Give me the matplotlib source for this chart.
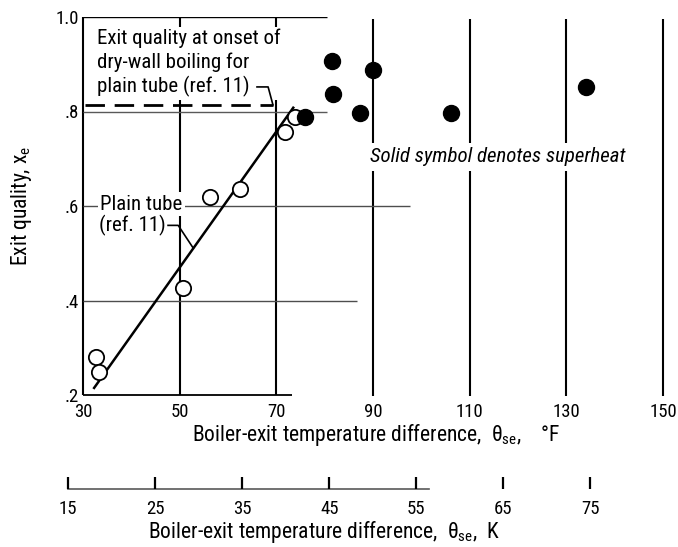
import matplotlib
matplotlib.use("Agg")
import matplotlib.pyplot as plt
from matplotlib import font_manager

# data
open_x = [32.7, 33.3, 50.7, 56.3, 62.5, 71.8, 73.9]
open_y = [0.280, 0.249, 0.426, 0.619, 0.636, 0.757, 0.788]
solid_x = [75.9, 81.5, 81.7, 90.0, 87.3, 106.1, 134.1]
solid_y = [0.788, 0.907, 0.837, 0.888, 0.797, 0.797, 0.852]
plain_x = [32.3, 73.5]
plain_y = [0.215, 0.808]
drywall_x = [30.5, 69.3]
drywall_y = [0.814, 0.814]
f_ticks = [30, 50, 70, 90, 110, 130, 150]
k_ticks = [15, 25, 35, 45, 55, 65, 75]
y_ticks = [0.2, 0.4, 0.6, 0.8, 1.0]
y_labels = ['.2', '.4', '.6', '.8', '1.0']

# a narrow face is closer to the lettering of the scan
names = {f.name for f in font_manager.fontManager.ttflist}
fam = 'DejaVu Sans'
for cand in ['Liberation Sans Narrow', 'DejaVu Sans Condensed', 'Roboto Condensed',
             'Open Sans Condensed', 'Noto Sans Condensed']:
    if cand in names:
        fam = cand
        break
plt.rcParams['font.family'] = [fam, 'DejaVu Sans']
plt.rcParams['font.stretch'] = 'condensed'
plt.rcParams['mathtext.fontset'] = 'custom'
plt.rcParams['mathtext.rm'] = fam
plt.rcParams['mathtext.it'] = fam + ':italic'
fs = 15
fs_tick = 13.5
fs_lab = 15.5

fig = plt.figure(figsize=(6.78, 5.47), dpi=100)
ax = fig.add_axes([83/678, 1-395/547, 580/678, 378/547])
ax.set_xticks(f_ticks)
ax.set_xticklabels([str(t) for t in f_ticks], fontsize=fs_tick)
ax.set_yticks(y_ticks)
ax.set_yticklabels(y_labels, fontsize=fs_tick)
ax.set_xlim(30, 150)
ax.set_ylim(0.2, 1.0)
ax.tick_params(length=0)
ax.tick_params(axis='x', pad=6)
ax.tick_params(axis='y', pad=3)
for s in ax.spines.values():
    s.set_visible(False)

# the hand-drawn grid of the original
ax.vlines([30, 50, 70], 0.2, 1.0, color='k', lw=1.5, clip_on=False)
ax.vlines([90, 110, 130, 150], 0.197, 0.995, color='k', lw=1.5, clip_on=False)
ax.hlines(1.0, 30, 80.5, color='k', lw=1.0)
ax.hlines(0.8, 30, 80.5, color='0.35', lw=1.0)
ax.hlines(0.6, 30, 97.6, color='0.3', lw=1.0)
ax.hlines(0.4, 30, 86.7, color='0.3', lw=1.0)
ax.hlines(0.2, 30, 73.2, color='k', lw=1.3, clip_on=False)

ax.plot(plain_x, plain_y, color='k', lw=1.8, zorder=4)
ax.plot(drywall_x, drywall_y, color='k', lw=2.0, ls=(0, (7, 3.5)), zorder=4)
ax.plot(open_x, open_y, 'o', ms=11, mfc='white', mec='k', mew=1.3, ls='none', zorder=5)
ax.plot(solid_x, solid_y, 'o', ms=11.5, color='k', ls='none', zorder=6)

box = dict(facecolor='white', edgecolor='none', pad=2)
ax.text(32.9, 0.975, 'Exit quality at onset of\ndry-wall boiling for\nplain tube (ref. 11)',
        fontsize=fs, va='top', ha='left', linespacing=1.25, bbox=box, zorder=3)
ax.plot([66.0, 68.3, 69.3], [0.852, 0.852, 0.814], color='k', lw=1.2, zorder=4)

ax.text(33.6, 0.604, 'Plain tube', fontsize=fs, va='center', ha='left', bbox=box, zorder=3)
ax.text(33.4, 0.559, '(ref. 11)', fontsize=fs, va='center', ha='left', bbox=box, zorder=3)
ax.plot([47.6, 49.7, 52.8], [0.559, 0.559, 0.511], color='k', lw=1.2, zorder=4)

ax.text(89.4, 0.704, 'Solid symbol denotes superheat', fontsize=fs, style='italic',
        va='center', ha='left', bbox=dict(facecolor='white', edgecolor='none', pad=3), zorder=3)

fig.text(21/678, 1-206/547, r'Exit quality, x$_{\mathrm{e}}$', rotation=90,
         fontsize=fs_lab, ha='center', va='center')
fig.text(376/678, 1-435/547, r'Boiler-exit temperature difference,  θ$_{\mathrm{se}}$,    °F',
         fontsize=fs_lab, ha='center', va='center')

# kelvin scale underneath (15 K sits left of the 30 F line)
ax2 = fig.add_axes([68/678, 1-489/547, 595/678, 12/547])
ax2.set_xticks(k_ticks)
ax2.set_xticklabels([str(t) for t in k_ticks], fontsize=fs_tick)
ax2.set_xlim(15, 150/1.8)
ax2.set_ylim(0, 1)
ax2.set_yticks([])
for s in ax2.spines.values():
    s.set_visible(False)
ax2.plot([15, 56.5], [0, 0], color='0.35', lw=1.2, clip_on=False)
ax2.vlines(k_ticks, 0, 1, color='k', lw=1.6, clip_on=False)
ax2.tick_params(length=0, pad=8)
fig.text(324/678, 1-532/547, r'Boiler-exit temperature difference,  θ$_{\mathrm{se}}$,  K',
         fontsize=fs_lab, ha='center', va='center')

fig.savefig('out.png', dpi=100)
